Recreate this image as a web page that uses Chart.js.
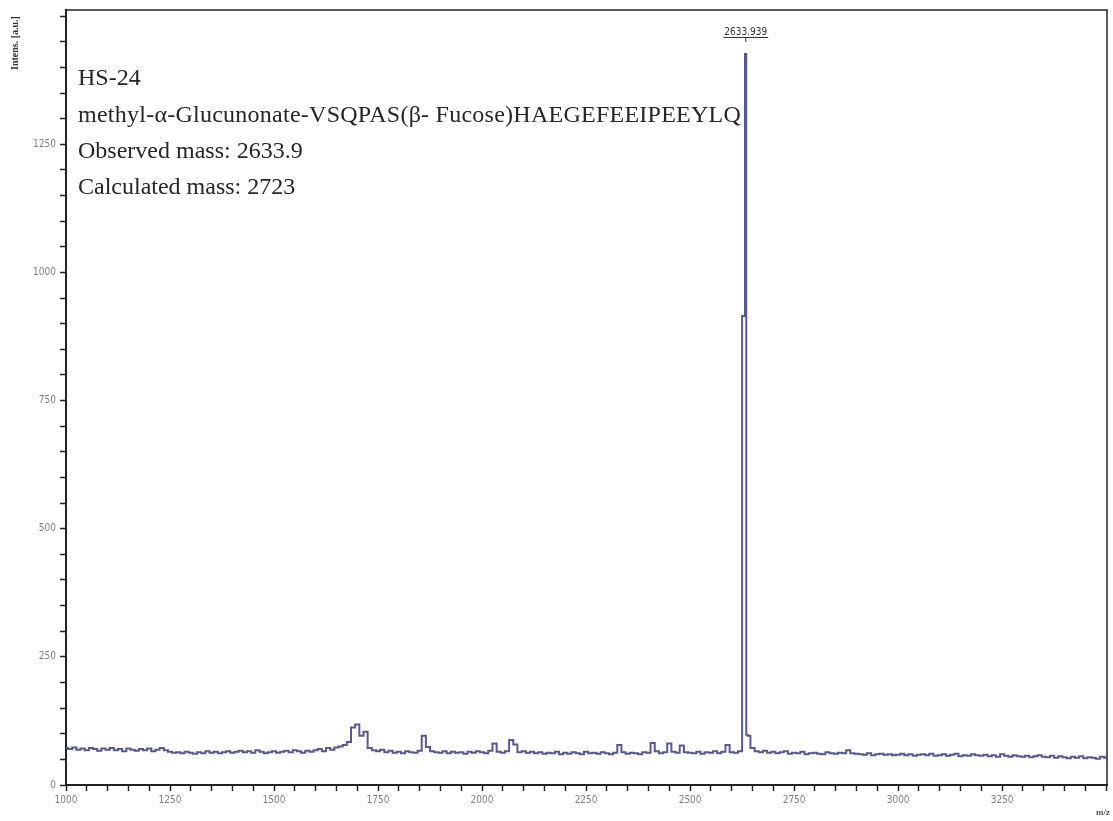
<!DOCTYPE html>
<html>
<head>
<meta charset="utf-8">
<title>HS-24 MALDI spectrum</title>
<script src="https://cdn.jsdelivr.net/npm/chart.js@4/dist/chart.umd.min.js"></script>
<style>
  html, body { margin: 0; padding: 0; background: #ffffff; }
  #wrap { width: 1113px; height: 821px; }
</style>
</head>
<body>
<div id="wrap"><canvas id="spectrum" width="1113" height="821"></canvas></div>
<script>
// Spectrum sampled every 10 m/z from 1000 to 3500
const mzStart = 1000;
const mzStep = 10;
const intensity = [
  72, 70, 73, 69, 71, 68, 72, 70, 67, 71,   // 1000
  69, 72, 68, 70, 66, 71, 69, 67, 70, 68,   // 1100
  71, 66, 69, 72, 68, 65, 63, 64, 62, 65,   // 1200
  63, 61, 64, 62, 66, 63, 65, 62, 64, 66,   // 1300
  63, 65, 67, 64, 66, 63, 68, 65, 62, 64,   // 1400
  66, 63, 65, 67, 64, 68, 66, 63, 67, 65,   // 1500
  68, 70, 66, 72, 69, 73, 75, 78, 84, 112,  // 1600
  118, 96, 104, 72, 68, 66, 69, 64, 67, 63, // 1700
  65, 62, 66, 64, 63, 67, 96, 74, 66, 64,   // 1800
  63, 66, 62, 65, 63, 64, 61, 65, 63, 66,   // 1900
  64, 62, 67, 81, 65, 63, 66, 88, 79, 64,   // 2000
  66, 63, 65, 62, 64, 61, 63, 62, 65, 60,   // 2100
  63, 61, 64, 62, 60, 65, 62, 63, 61, 64,   // 2200
  62, 60, 63, 78, 64, 61, 63, 62, 60, 64,   // 2300
  63, 82, 66, 62, 64, 81, 65, 63, 77, 64,   // 2400
  63, 62, 65, 61, 64, 63, 66, 62, 65, 78,   // 2500
  64, 63, 66, 915, 96, 72, 66, 64, 67, 63,  // 2600
  65, 62, 64, 66, 61, 63, 62, 65, 60, 62,   // 2700
  63, 61, 60, 64, 62, 61, 63, 62, 68, 62,   // 2800
  61, 60, 59, 62, 58, 60, 61, 59, 60, 58,   // 2900
  59, 61, 58, 60, 57, 59, 60, 58, 61, 57,   // 3000
  58, 60, 57, 59, 61, 56, 58, 57, 60, 58,   // 3100
  57, 59, 56, 58, 55, 60, 57, 55, 58, 56,   // 3200
  55, 57, 54, 56, 58, 55, 54, 57, 53, 56,   // 3300
  54, 52, 55, 53, 56, 52, 54, 53, 51, 55,   // 3400
  53                                        // 3500
];

// Apex of the main peak and its trailing shoulder
const peakMz = [2633.9, 2636];
const peakIntensity = [1426, 98];
const peakLabel = '2633.939';

// Axis ranges and labelled ticks
const xRange = [1000, 3502];
const yRange = [0, 1512];
const minorStep = 50;
const xTickLabels = [1000, 1250, 1500, 1750, 2000, 2250, 2500, 2750, 3000, 3250];
const yTickLabels = [0, 250, 500, 750, 1000, 1250];

const infoLines = [
  'HS-24',
  'methyl-\u03b1-Glucunonate-VSQPAS(\u03b2- Fucose)HAEGEFEEIPEEYLQ',
  'Observed mass: 2633.9',
  'Calculated mass: 2723'
];

const lineColor = '#5a5a8a';

// Merge the regular grid with the peak samples
const points = intensity.map((v, i) => ({ x: mzStart + i * mzStep, y: v }));
peakMz.forEach((m, i) => points.push({ x: m, y: peakIntensity[i] }));
points.sort((a, b) => a.x - b.x);

function minorTicks(lo, hi) {
  const t = [];
  for (let v = lo; v <= hi; v += minorStep) t.push({ value: v });
  return t;
}

// Box frame, axis titles, peak label and sample notes
const decorations = {
  id: 'decorations',
  afterDraw(chart) {
    const { ctx, chartArea: a, scales } = chart;
    ctx.save();

    // frame on top and right
    ctx.strokeStyle = '#222';
    ctx.lineWidth = 1.5;
    ctx.beginPath();
    ctx.moveTo(a.left, a.top);
    ctx.lineTo(a.right, a.top);
    ctx.lineTo(a.right, a.bottom);
    ctx.stroke();

    // y title, rotated at the top of the axis
    ctx.fillStyle = '#333';
    ctx.font = 'bold 10px "Liberation Serif"';
    ctx.translate(15, 43);
    ctx.rotate(-Math.PI / 2);
    ctx.textAlign = 'center';
    ctx.textBaseline = 'middle';
    ctx.fillText('Intens. [a.u.]', 0, 0);
    ctx.setTransform(1, 0, 0, 1, 0, 0);

    // x title at the right end
    ctx.font = 'bold 9px "Liberation Serif"';
    ctx.fillStyle = '#555';
    ctx.textAlign = 'right';
    ctx.fillText('m/z', 1110, 813);

    // peak label with bracket
    const px = scales.x.getPixelForValue(peakMz[0]);
    ctx.font = '10px "DejaVu Sans Condensed"';
    ctx.fillStyle = '#333';
    ctx.textAlign = 'center';
    ctx.textBaseline = 'alphabetic';
    ctx.fillText(peakLabel, px, 35);
    const w = ctx.measureText(peakLabel).width;
    ctx.strokeStyle = '#333';
    ctx.lineWidth = 1;
    ctx.beginPath();
    ctx.moveTo(px - w / 2 - 1, 37.5);
    ctx.lineTo(px + w / 2 + 1, 37.5);
    ctx.moveTo(px, 37.5);
    ctx.lineTo(px, 42);
    ctx.stroke();

    // sample notes; the sequence line is tracked slightly wider
    ctx.fillStyle = '#262626';
    ctx.textAlign = 'left';
    ctx.textBaseline = 'middle';
    ctx.font = '24px "Liberation Serif"';
    const ys = [79, 116, 152, 188];
    const tracking = ['0px', '0.25px', '0px', '0px'];
    infoLines.forEach((s, i) => {
      ctx.letterSpacing = tracking[i];
      ctx.fillText(s, 78, ys[i]);
    });
    ctx.letterSpacing = '0px';

    ctx.restore();
  }
};

const tickFont = { family: '"DejaVu Sans Condensed", sans-serif', size: 10 };

new Chart(document.getElementById('spectrum'), {
  type: 'line',
  data: {
    datasets: [{
      data: points,
      borderColor: lineColor,
      borderWidth: 2,
      pointRadius: 0,
      stepped: 'middle',
      fill: false
    }]
  },
  options: {
    responsive: false,
    animation: false,
    devicePixelRatio: 1,
    layout: { padding: { top: 8, right: 6, left: 0, bottom: 0 } },
    plugins: { legend: { display: false }, tooltip: { enabled: false } },
    scales: {
      x: {
        type: 'linear',
        min: xRange[0],
        max: xRange[1],
        afterBuildTicks: s => { s.ticks = minorTicks(1000, 3500); },
        afterFit: s => { s.height = 36; },
        border: { display: true, color: '#222', width: 2 },
        grid: { drawOnChartArea: false, drawTicks: true, tickLength: 6, tickColor: '#222', tickWidth: 1.5 },
        ticks: {
          autoSkip: false,
          maxRotation: 0,
          padding: 3,
          color: '#808080',
          font: tickFont,
          callback: v => xTickLabels.includes(v) ? String(v) : ''
        }
      },
      y: {
        type: 'linear',
        min: yRange[0],
        max: yRange[1],
        afterBuildTicks: s => { s.ticks = minorTicks(0, 1500); },
        afterFit: s => { s.width = 66; },
        border: { display: true, color: '#222', width: 2 },
        grid: { drawOnChartArea: false, drawTicks: true, tickLength: 6, tickColor: '#222', tickWidth: 1.5 },
        ticks: {
          autoSkip: false,
          padding: 4,
          color: '#808080',
          font: tickFont,
          callback: v => yTickLabels.includes(v) ? String(v) : ''
        }
      }
    }
  },
  plugins: [decorations]
});
</script>
</body>
</html>
